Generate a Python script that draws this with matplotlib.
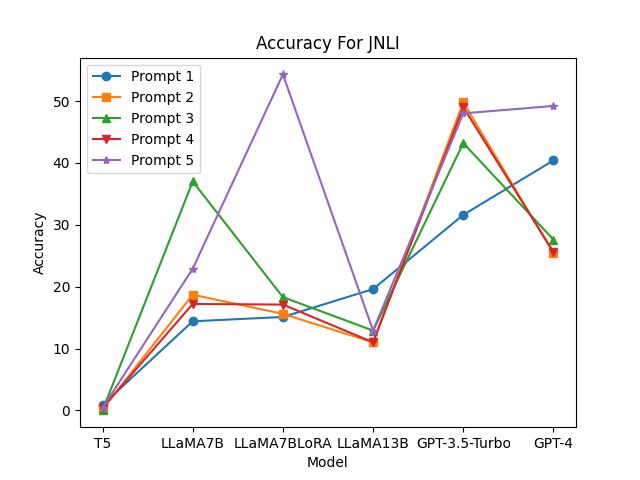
import matplotlib
matplotlib.use("Agg")
import matplotlib.pyplot as plt

models = ["T5", "LLaMA7B", "LLaMA7BLoRA", "LLaMA13B", "GPT-3.5-Turbo", "GPT-4"]
prompt1 = [0.9, 14.4, 15.1, 19.6, 31.6, 40.4]
prompt2 = [0.2, 18.7, 15.6, 11.0, 49.8, 25.4]
prompt3 = [0.0, 37.0, 18.3, 12.9, 43.2, 27.6]
prompt4 = [0.4, 17.2, 17.1, 11.0, 49.0, 25.6]
prompt5 = [0.4, 22.9, 54.3, 12.9, 48.0, 49.2]

series = [("Prompt 1", prompt1, "o"), ("Prompt 2", prompt2, "s"),
          ("Prompt 3", prompt3, "^"), ("Prompt 4", prompt4, "v"),
          ("Prompt 5", prompt5, "*")]

fig, ax = plt.subplots(figsize=(6.4, 4.8), dpi=100)
for name, vals, m in series:
    ax.plot(models, vals, marker=m, label=name)
ax.set_title("Accuracy For JNLI")
ax.set_xlabel("Model")
ax.set_ylabel("Accuracy")
ax.legend(loc="upper left")
fig.savefig("out.png")
